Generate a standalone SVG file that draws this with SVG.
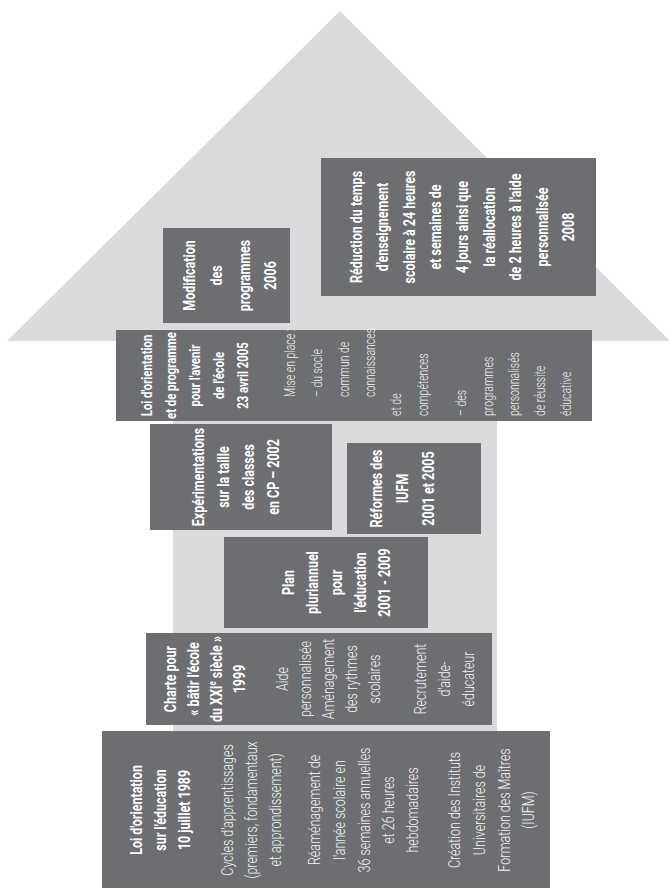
<svg xmlns="http://www.w3.org/2000/svg" width="670" height="890" viewBox="0 0 670 890">
<style>
.bg{fill:#d9dadb}
.box{fill:#6d6e71}
text{font-family:Roboto,"Liberation Sans",sans-serif;font-size:16px;fill:#ffffff;text-anchor:middle}
.b{font-weight:700}
.l{font-weight:300;fill:#f3f3f3}
.s{font-size:14.5px}
.m{font-size:14px}
.st{text-anchor:start}
</style>
<rect width="670" height="890" fill="#ffffff"/>
<g id="house">
<polygon class="bg" points="7,341 340,11 670,341"/>
<rect class="bg" x="173" y="330" width="324" height="401"/>
</g>

<g id="reduction-2008">
<rect class="box" x="321" y="158" width="275" height="138"/>
<g transform="translate(0,227) rotate(-90) scale(.78,1)">
<text class="b" y="362">Réduction du temps</text>
<text class="b" y="388">d'enseignement</text>
<text class="b" y="415">scolaire à 24 heures</text>
<text class="b" y="441">et semaines de</text>
<text class="b" y="468">4 jours ainsi que</text>
<text class="b" y="495">la réallocation</text>
<text class="b" y="521">de 2 heures à l'aide</text>
<text class="b" y="548">personnalisée</text>
<text class="b" y="574">2008</text>
</g>
</g>

<g id="modification-2006">
<rect class="box" x="163" y="228" width="127" height="95"/>
<g transform="translate(0,275.5) rotate(-90) scale(.78,1)">
<text class="b" y="195">Modification</text>
<text class="b" y="222">des</text>
<text class="b" y="250">programmes</text>
<text class="b" y="276">2006</text>
</g>
</g>

<g id="loi-2005">
<rect class="box" x="116" y="330" width="476" height="91"/>
<g transform="translate(0,375.5) rotate(-90) scale(.78,1)">
<text class="b s" y="152">Loi d'orientation</text>
<text class="b s" y="176">et de programme</text>
<text class="b s" y="200">pour l'avenir</text>
<text class="b s" y="224">de l'école</text>
<text class="b s" y="248">23 avril 2005</text>
</g>
<g transform="translate(0,397) rotate(-90) scale(.75,1)">
<text class="l m st" y="295">Mise en place :</text>
<text class="l m st" y="322">– du socle</text>
<text class="l m st" y="349">commun de</text>
<text class="l m st" y="375">connaissances</text>
</g>
<g transform="translate(0,416) rotate(-90) scale(.75,1)">
<text class="l m st" y="401">et de</text>
<text class="l m st" y="428">compétences</text>
<text class="l m st" y="466">– des</text>
<text class="l m st" y="493">programmes</text>
<text class="l m st" y="519">personnalisés</text>
<text class="l m st" y="545">de réussite</text>
<text class="l m st" y="571">éducative</text>
</g>
</g>

<g id="experimentations-2002">
<rect class="box" x="150" y="424" width="182" height="106"/>
<g transform="translate(0,477) rotate(-90) scale(.78,1)">
<text class="b" y="204">Expérimentations</text>
<text class="b" y="229">sur la taille</text>
<text class="b" y="254">des classes</text>
<text class="b" y="279">en CP – 2002</text>
</g>
</g>

<g id="reformes-iufm">
<rect class="box" x="347" y="443" width="134" height="91"/>
<g transform="translate(0,488.5) rotate(-90) scale(.78,1)">
<text class="b" y="382">Réformes des</text>
<text class="b" y="408">IUFM</text>
<text class="b" y="434">2001 et 2005</text>
</g>
</g>

<g id="plan-pluriannuel">
<rect class="box" x="224" y="537" width="204" height="91"/>
<g transform="translate(0,582.5) rotate(-90) scale(.78,1)">
<text class="b" y="294">Plan</text>
<text class="b" y="318">pluriannuel</text>
<text class="b" y="342">pour</text>
<text class="b" y="366">l'éducation</text>
<text class="b" y="390">2001 - 2009</text>
</g>
</g>

<g id="charte-1999">
<rect class="box" x="146" y="633" width="346" height="92"/>
<g transform="translate(0,679) rotate(-90) scale(.78,1)">
<text class="b" y="176">Charte pour</text>
<text class="b" y="199">« bâtir l'école</text>
<text class="b" y="222">du XXI<tspan font-size="10" dy="-6">e</tspan><tspan dy="6"> siècle »</tspan></text>
<text class="b" y="245">1999</text>
<text class="l" y="288">Aide</text>
<text class="l" y="311">personnalisée</text>
<text class="l" y="334">Aménagement</text>
<text class="l" y="357">des rythmes</text>
<text class="l" y="380">scolaires</text>
<text class="l" y="426">Recrutement</text>
<text class="l" y="450">d'aide-</text>
<text class="l" y="474">éducateur</text>
</g>
</g>

<g id="loi-1989">
<rect class="box" x="102" y="731" width="448" height="157"/>
<g transform="translate(0,810) rotate(-90) scale(.78,1)">
<text class="b" y="142">Loi d'orientation</text>
<text class="b" y="166">sur l'éducation</text>
<text class="b" y="190">10 juillet 1989</text>
<text class="l" y="233">Cycles d'apprentissages</text>
<text class="l" y="257">(premiers, fondamentaux</text>
<text class="l" y="281">et approndissement)</text>
<text class="l" y="320">Réaménagement de</text>
<text class="l" y="345">l'année scolaire en</text>
<text class="l" y="370">36 semaines annuelles</text>
<text class="l" y="394">et 26 heures</text>
<text class="l" y="418">hebdomadaires</text>
<text class="l" y="460">Création des Instituts</text>
<text class="l" y="485">Universitaires de</text>
<text class="l" y="510">Formation des Maîtres</text>
<text class="l" y="534">(IUFM)</text>
</g>
</g>
</svg>
